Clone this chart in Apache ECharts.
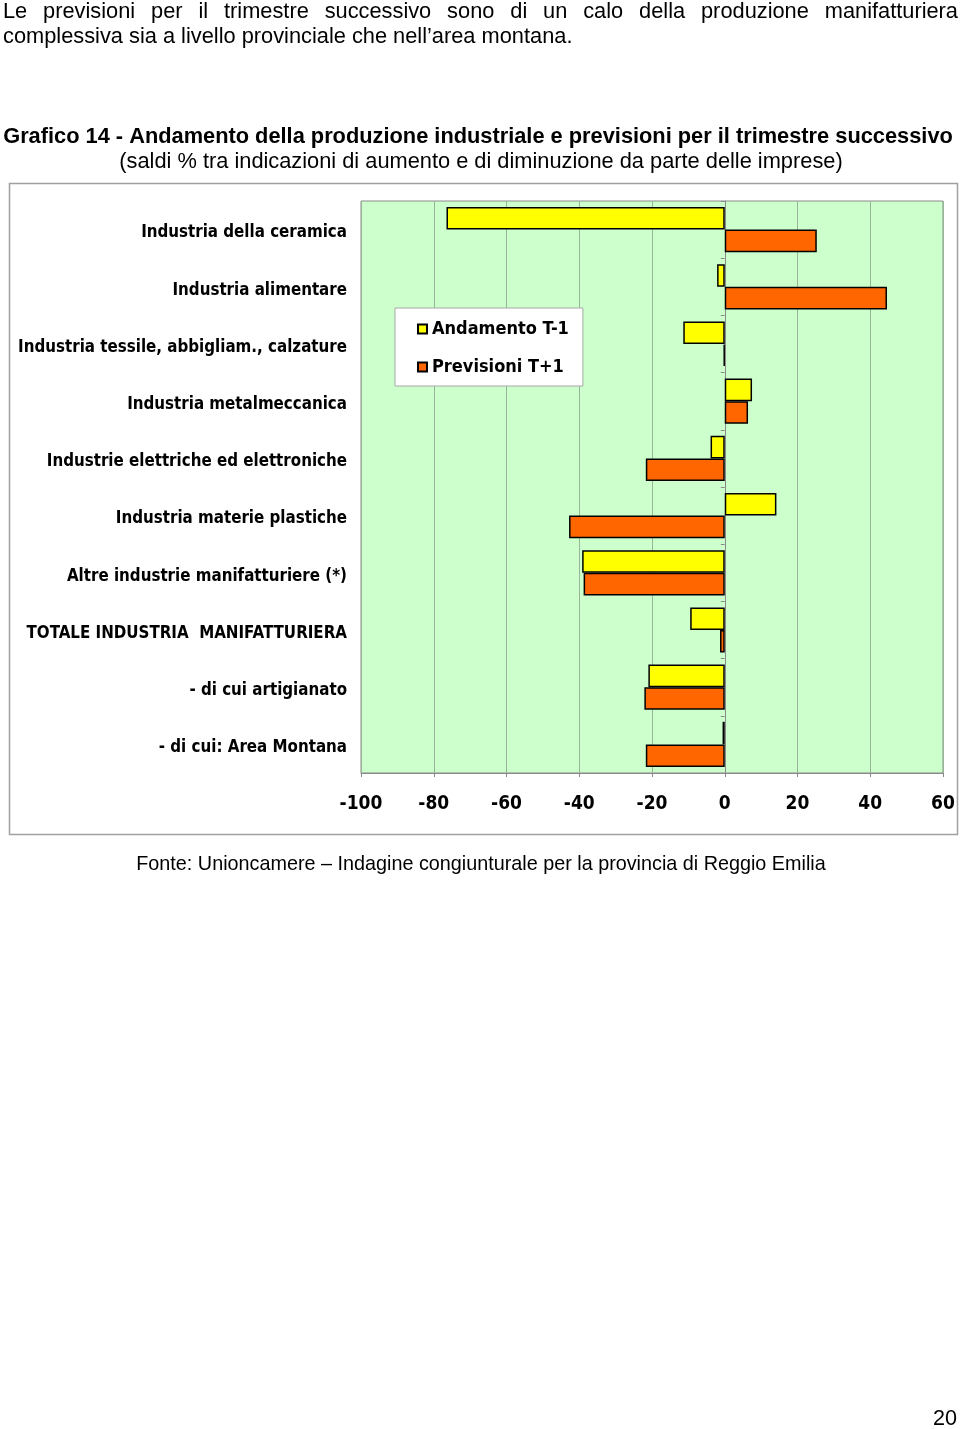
<!DOCTYPE html>
<html>
<head>
<meta charset="utf-8">
<script src="https://cdn.jsdelivr.net/npm/echarts@6/dist/echarts.min.js"></script>
<style>
html,body{margin:0;padding:0;background:#fff;}
#wrap{position:relative;width:960px;height:1429px;overflow:hidden;}
#chart{position:absolute;left:0;top:0;width:960px;height:1429px;}
.para{position:absolute;left:3px;width:955px;font-family:"Liberation Sans",Arial,sans-serif;font-size:21.8px;line-height:25px;color:#000;}
.j{text-align:justify;text-align-last:justify;}
#pnum{position:absolute;right:3px;top:1405px;font-family:"Liberation Sans",Arial,sans-serif;font-size:21.6px;}
</style>
</head>
<body>
<div id="wrap">
<div id="chart"></div>
<div class="para j" style="top:-2px;">Le previsioni per il trimestre successivo sono di un calo della produzione manifatturiera</div>
<div class="para" style="top:23px;">complessiva sia a livello provinciale che nell’area montana.</div>
<div id="pnum">20</div>
</div>
<script>
const categories = [
  "Industria della ceramica",
  "Industria alimentare",
  "Industria tessile, abbigliam., calzature",
  "Industria metalmeccanica",
  "Industrie elettriche ed elettroniche",
  "Industria materie plastiche",
  "Altre industrie manifatturiere (*)",
  "TOTALE INDUSTRIA  MANIFATTURIERA",
  "- di cui artigianato",
  "- di cui: Area Montana"
];
const andamentoT1 = [-76.5, -2.1, -11.4, 7.5, -3.9, 14.2, -39.2, -9.5, -21.0, -0.6];
const previsioniT1 = [25.3, 44.6, -0.3, 6.4, -21.7, -42.8, -38.8, -1.3, -22.1, -21.7];
const xTicks = [-100, -80, -60, -40, -20, 0, 20, 40, 60];

const labelFont = '"DejaVu Sans Condensed","Liberation Sans Narrow",sans-serif';
const chart = echarts.init(document.getElementById('chart'));
chart.setOption({
  animation: false,
  title: [
    {
      text: "Grafico 14 - Andamento della produzione industriale e previsioni per il trimestre successivo",
      left: 473, top: 121, textAlign: 'center',
      textStyle: {fontFamily: '"Liberation Sans",Arial,sans-serif', fontSize: 21.8, fontWeight: 'bold', color: '#000'}
    },
    {
      text: "(saldi % tra indicazioni di aumento e di diminuzione da parte delle imprese)",
      left: 476, top: 146, textAlign: 'center',
      textStyle: {fontFamily: '"Liberation Sans",Arial,sans-serif', fontSize: 21.8, fontWeight: 'normal', color: '#000'}
    },
    {
      text: "Fonte: Unioncamere – Indagine congiunturale per la provincia di Reggio Emilia",
      left: 476, top: 850, textAlign: 'center',
      textStyle: {fontFamily: '"Liberation Sans",Arial,sans-serif', fontSize: 19.8, fontWeight: 'normal', color: '#000'}
    }
  ],
  graphic: [
    {type: 'rect', shape: {x: 9.5, y: 183.5, width: 948, height: 651}, style: {fill: 'none', stroke: '#a0a0a0', lineWidth: 1.5}, z: -10}
  ],
  legend: {
    orient: 'vertical', left: 395, top: 308, padding: [12, 14, 10, 22],
    backgroundColor: '#fff', borderColor: '#a8a8a8', borderWidth: 1,
    icon: 'rect', itemWidth: 9, itemHeight: 9, itemGap: 20,
    textStyle: {fontFamily: labelFont, fontSize: 18, fontWeight: 'bold', color: '#000'},
    data: ['Andamento T-1', 'Previsioni T+1']
  },
  grid: {left: 361, right: 17, top: 201, bottom: 656, outerBoundsMode: 'none', containLabel: false,
    show: true, backgroundColor: '#ccffcc', borderColor: '#8a8a8a', borderWidth: 1},
  xAxis: {
    type: 'value', min: xTicks[0], max: xTicks[xTicks.length - 1], interval: 20,
    axisLine: {show: true, onZero: false, lineStyle: {color: '#8a8a8a'}},
    axisTick: {show: true, length: 4, lineStyle: {color: '#8a8a8a'}},
    splitLine: {show: true, lineStyle: {color: '#9ab49a', width: 1}},
    axisLabel: {margin: 22, fontFamily: labelFont, fontSize: 19, fontWeight: 'bold', color: '#000'}
  },
  yAxis: [
    {
      type: 'category', data: categories, inverse: true,
      axisLine: {show: false, onZero: false}, axisTick: {show: false},
      axisLabel: {
        margin: 14,
        formatter: function (v) { return '{a|' + v + '}'; },
        rich: {a: {padding: [7, 0, 0, 0], fontFamily: labelFont, fontSize: 16.8, fontWeight: 'bold', color: '#000'}}
      }
    },
    {
      type: 'category', data: categories, inverse: true, position: 'left',
      axisLine: {show: true, onZero: true, lineStyle: {color: '#8a8a8a'}},
      axisTick: {show: true, length: 4, lineStyle: {color: '#8a8a8a'}},
      axisLabel: {show: false}
    }
  ],
  series: [
    {
      name: 'Andamento T-1', type: 'bar', data: andamentoT1, yAxisIndex: 0,
      barGap: '0%', barCategoryGap: '21%',
      itemStyle: {color: '#ffff00', borderColor: '#000', borderWidth: 1.5}
    },
    {
      name: 'Previsioni T+1', type: 'bar', data: previsioniT1, yAxisIndex: 0,
      barGap: '0%', barCategoryGap: '21%',
      itemStyle: {color: '#ff6600', borderColor: '#000', borderWidth: 1.5}
    }
  ]
});
</script>
</body>
</html>
